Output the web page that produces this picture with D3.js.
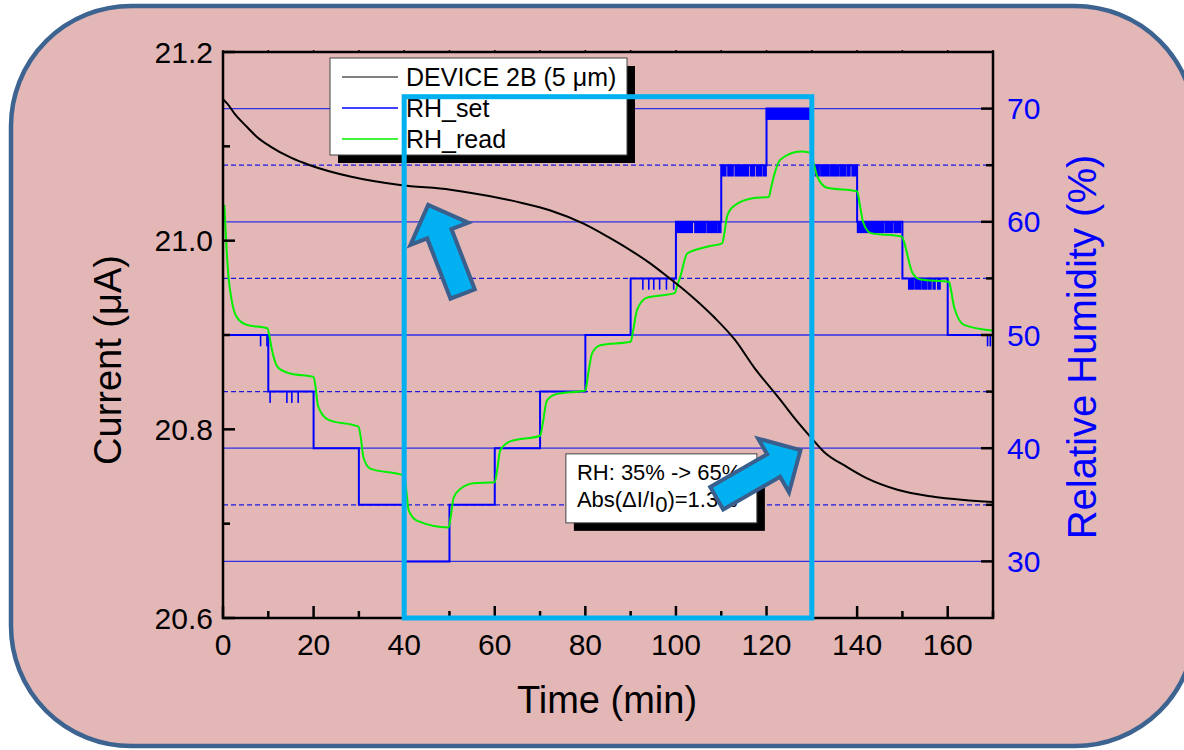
<!DOCTYPE html>
<html>
<head>
<meta charset="utf-8">
<script src="https://cdn.jsdelivr.net/npm/d3@7"></script>
<style>
  body { margin: 0; background: #fff; }
  svg { display: block; font-family: "Liberation Sans", Arial, sans-serif; }
</style>
</head>
<body>
<script>
// device current (uA) against time (min)
const currentTime = [0, 1, 2.5, 5.2, 7.5, 10.4, 15, 19.2, 28.1, 39.1, 50.2, 61.2, 66, 72.3, 79.6, 85, 89.9, 94,
  98.1, 103, 108.4, 113, 117.2, 123.1, 126, 129.7, 132.7, 137.8, 142.2, 148.9, 156.2, 163.6, 170];
const currentValue = [21.150, 21.145, 21.135, 21.121, 21.110, 21.100, 21.088, 21.080, 21.068, 21.059, 21.054,
  21.045, 21.040, 21.032, 21.018, 21.004, 20.990, 20.977, 20.962, 20.943, 20.919, 20.895, 20.866, 20.831,
  20.813, 20.792, 20.776, 20.760, 20.748, 20.736, 20.729, 20.725, 20.723];

// RH set point: step start (min) and level (%)
const setStart = [0, 10, 20, 30, 40, 50, 60, 70, 80, 90, 100, 110, 120, 130, 140, 150, 160, 170];
const setLevel = [50, 45, 40, 35, 30, 35, 40, 45, 50, 55, 60, 65, 70, 65, 60, 55, 50, 50];

// short dropouts of the RH_set signal, [from, to] in min
const dropFrom = [8.3, 9.7, 10.4, 14.1, 15.2, 16.6, 92.7, 94.0, 95.1, 96.4, 97.9, 99.5,
  100.3, 104.2, 106.9, 109.3, 110.2, 111.5, 113.1, 116.5, 117.8, 119.3, 120.0,
  130.8, 132.0, 134.2, 136.4, 137.9, 138.9, 140.1, 146.3, 148.2,
  151.4, 152.8, 154.5, 155.8, 156.8, 157.8, 168.8, 169.4];
const dropTo = [8.3, 9.7, 10.4, 14.1, 15.2, 16.6, 92.7, 94.0, 95.1, 96.4, 97.9, 99.5,
  103.6, 106.5, 109.0, 109.9, 111.0, 112.6, 116.0, 117.3, 118.9, 119.9, 129.8,
  131.6, 133.8, 136.0, 137.5, 138.4, 140.0, 145.9, 147.8, 149.6,
  152.4, 154.1, 155.4, 156.3, 157.2, 158.3, 168.8, 169.4];

// measured RH (%)
const readTime = [0.3, 0.8, 1.2, 1.9, 3.0, 5.2, 9.8, 10.3, 10.8, 12.2, 14.8, 20.0, 20.4, 21.0, 23.3, 29.9,
  30.4, 31.0, 32.5, 39.9, 40.4, 41.0, 42.8, 49.8, 50.3, 50.9, 52.4, 55.3, 60.0, 60.5, 61.2, 63.4, 70.0,
  70.6, 71.5, 73.7, 80.0, 80.6, 81.5, 83.3, 90.0, 90.6, 91.4, 93.6, 99.7, 100.4, 101.0, 102.5, 106.9, 110.2,
  110.7, 111.3, 112.8, 117.2, 120.5, 121.0, 121.6, 123.1, 127.5, 129.7, 130.4, 131.2, 133.4, 140.0,
  140.6, 141.3, 143.0, 149.8, 150.4, 150.9, 152.2, 154.0, 160.3, 160.8, 161.4, 163.6, 169.8];
const readValue = [61.5, 57.5, 55.2, 53.1, 51.6, 50.9, 50.6, 49.8, 48.7, 47.1, 46.6, 46.3, 45.5, 43.7, 42.5, 41.9,
  41.0, 39.2, 38.2, 37.6, 36.5, 34.5, 33.6, 33.0, 34.0, 35.6, 36.4, 36.9, 37.0, 38.0, 39.8, 40.6, 41.1,
  42.2, 44.2, 44.8, 45.1, 46.5, 48.4, 49.1, 49.4, 50.5, 52.2, 53.3, 53.7, 54.5, 55.2, 57.2, 57.8, 58.1,
  59.0, 60.5, 61.4, 62.1, 62.2, 63.0, 64.0, 65.5, 66.2, 66.1, 65.2, 64.0, 63.0, 62.7,
  61.5, 60.0, 59.0, 58.7, 58.2, 57.4, 55.5, 54.9, 54.7, 53.8, 52.5, 50.9, 50.4];

// ticks
const xTicks = [0, 20, 40, 60, 80, 100, 120, 140, 160];
const xMinor = [10, 30, 50, 70, 90, 110, 130, 150, 170];
const leftTicks = [20.6, 20.8, 21.0, 21.2];
const leftMinor = [20.7, 20.9, 21.1];
const rightTicks = [30, 40, 50, 60, 70];
const rightMinor = [35, 45, 55, 65];

// annotation: highlighted window (min), arrows [tipT, tipI, tailT, tailI]
const windowT = [40, 130];
const windowTopRH = 71.05;
const arrowTipT = [45.3, 127.5];
const arrowTipI = [21.038, 20.778];
const arrowTailT = [52.9, 109.0];
const arrowTailI = [20.9435, 20.727];
const noteLines = ["RH: 35% -> 65%", "Abs(\u0394I/I"];
const noteAt = [75.7, 20.774];

const width = 1184, height = 750;
const plot = { left: 223, right: 993, top: 52, bottom: 618 };

const x = d3.scaleLinear().domain([0, 170]).range([plot.left, plot.right]);
const yI = d3.scaleLinear().domain([20.6, 21.2]).range([plot.bottom, plot.top]);
const yRH = d3.scaleLinear().domain([25, 75]).range([plot.bottom, plot.top]);

const svg = d3.select("body").append("svg")
  .attr("width", width)
  .attr("height", height);

// rounded slide panel
svg.append("rect")
  .attr("x", 11).attr("y", 6)
  .attr("width", 1184).attr("height", 740)
  .attr("rx", 120).attr("ry", 120)
  .attr("fill", "#e4b7b7")
  .attr("stroke", "#3d6490")
  .attr("stroke-width", 4.5);

// RH grid
svg.append("g")
  .selectAll("line")
  .data(rightTicks)
  .join("line")
  .attr("x1", plot.left).attr("x2", plot.right)
  .attr("y1", d => yRH(d)).attr("y2", d => yRH(d))
  .attr("stroke", "#2f2fe6")
  .attr("stroke-width", 1.3);

svg.append("g")
  .selectAll("line")
  .data(rightMinor)
  .join("line")
  .attr("x1", plot.left).attr("x2", plot.right)
  .attr("y1", d => yRH(d)).attr("y2", d => yRH(d))
  .attr("stroke", "#1a1ae0")
  .attr("stroke-width", 1.2)
  .attr("stroke-dasharray", "5,3");

// curves
const levelAt = t => {
  let lv = setLevel[0];
  setStart.forEach((s, i) => { if (t >= s) lv = setLevel[i]; });
  return lv;
};

svg.append("path")
  .datum(setStart.map((t, i) => [t, setLevel[i]]))
  .attr("fill", "none")
  .attr("stroke", "#0000ff")
  .attr("stroke-width", 2)
  .attr("d", d3.line().x(d => x(d[0])).y(d => yRH(d[1])).curve(d3.curveStepAfter));

svg.append("g")
  .selectAll("rect")
  .data(dropFrom.map((t, i) => [t, dropTo[i]]))
  .join("rect")
  .attr("x", d => x(d[0]) - 0.8)
  .attr("width", d => Math.max(1.6, x(d[1]) - x(d[0]) + 1.6))
  .attr("y", d => yRH(levelAt(d[0])))
  .attr("height", d => yRH(levelAt(d[0]) - 1) - yRH(levelAt(d[0])))
  .attr("fill", "#0000ff");

svg.append("path")
  .datum(readTime.map((t, i) => [t, readValue[i]]))
  .attr("fill", "none")
  .attr("stroke", "#00f000")
  .attr("stroke-width", 2)
  .attr("d", d3.line().x(d => x(d[0])).y(d => yRH(d[1])).curve(d3.curveMonotoneX));

svg.append("path")
  .datum(currentTime.map((t, i) => [t, currentValue[i]]))
  .attr("fill", "none")
  .attr("stroke", "#000")
  .attr("stroke-width", 2)
  .attr("d", d3.line().x(d => x(d[0])).y(d => yI(d[1])).curve(d3.curveMonotoneX));

// frame and ticks
const frame = svg.append("g").attr("stroke", "#000").attr("fill", "none");
frame.append("rect")
  .attr("x", plot.left).attr("y", plot.top)
  .attr("width", plot.right - plot.left).attr("height", plot.bottom - plot.top)
  .attr("stroke-width", 2.5);

const tick = (data, x1, x2, y1, y2) => frame.append("g")
  .selectAll("line").data(data).join("line")
  .attr("x1", x1).attr("x2", x2).attr("y1", y1).attr("y2", y2)
  .attr("stroke-width", 2.5);

tick(xTicks, d => x(d), d => x(d), plot.bottom, plot.bottom - 12);
tick(xMinor, d => x(d), d => x(d), plot.bottom, plot.bottom - 7);
tick(xTicks.concat(xMinor), d => x(d), d => x(d), plot.top, plot.top - 2).attr("stroke-width", 1.5);
tick(leftTicks, plot.left, plot.left + 12, d => yI(d), d => yI(d));
tick(leftMinor, plot.left, plot.left + 7, d => yI(d), d => yI(d));
tick(rightTicks, plot.right, plot.right - 12, d => yRH(d), d => yRH(d));
tick(rightMinor, plot.right, plot.right - 7, d => yRH(d), d => yRH(d));

// tick labels
svg.append("g")
  .attr("font-size", 30)
  .attr("text-anchor", "middle")
  .selectAll("text").data(xTicks).join("text")
  .attr("x", d => x(d)).attr("y", plot.bottom + 37)
  .text(d => d);

svg.append("g")
  .attr("font-size", 30)
  .attr("text-anchor", "end")
  .selectAll("text").data(leftTicks).join("text")
  .attr("x", plot.left - 10).attr("y", d => yI(d)).attr("dy", "0.35em")
  .text(d => d.toFixed(1));

svg.append("g")
  .attr("font-size", 30)
  .attr("fill", "#0000ff")
  .selectAll("text").data(rightTicks).join("text")
  .attr("x", plot.right + 14).attr("y", d => yRH(d)).attr("dy", "0.35em")
  .text(d => d);

// axis titles
svg.append("text")
  .attr("font-size", 38)
  .attr("text-anchor", "middle")
  .attr("x", (plot.left + plot.right) / 2 - 1).attr("y", 713)
  .text("Time (min)");

svg.append("text")
  .attr("font-size", 38)
  .attr("text-anchor", "middle")
  .attr("transform", `translate(121,${(plot.top + plot.bottom) / 2 + 25}) rotate(-90)`)
  .text("Current (\u03bcA)");

svg.append("text")
  .attr("font-size", 40)
  .attr("fill", "#0000ff")
  .attr("text-anchor", "middle")
  .attr("transform", `translate(1096,${(plot.top + plot.bottom) / 2 + 12}) rotate(-90)`)
  .text("Relative Humidity (%)");

// legend
const legendItems = [["DEVICE 2B (5 \u03bcm)", "#000", 1], ["RH_set", "#0000ff", 1.6], ["RH_read", "#00f000", 1.6]];
const legend = svg.append("g").attr("transform", "translate(330,58)");
legend.append("rect").attr("x", 8).attr("y", 8).attr("width", 297).attr("height", 97).attr("fill", "#000");
legend.append("rect").attr("width", 297).attr("height", 97).attr("fill", "#fff")
  .attr("stroke", "#444").attr("stroke-width", 1);
const rows = legend.selectAll("g.row").data(legendItems).join("g")
  .attr("transform", (d, i) => `translate(0,${19 + i * 31})`);
rows.append("line").attr("x1", 12).attr("x2", 68)
  .attr("stroke", d => d[1]).attr("stroke-width", d => d[2]);
rows.append("text").attr("x", 76).attr("dy", "0.36em").attr("font-size", 25).text(d => d[0]);

// note box
const note = svg.append("g").attr("transform", `translate(${x(noteAt[0])},${yI(noteAt[1])})`);
note.append("rect").attr("x", 8).attr("y", 8).attr("width", 191).attr("height", 69).attr("fill", "#000");
note.append("rect").attr("width", 191).attr("height", 69).attr("fill", "#fff")
  .attr("stroke", "#444").attr("stroke-width", 1);
note.append("text").attr("x", 11).attr("y", 26).attr("font-size", 22).text(noteLines[0]);
const t2 = note.append("text").attr("x", 11).attr("y", 53).attr("font-size", 22).text(noteLines[1]);
t2.append("tspan").attr("dy", 5).text("0");
t2.append("tspan").attr("dy", -5).text(")=1.3%");

// highlighted window
svg.append("rect")
  .attr("x", x(windowT[0])).attr("y", yRH(windowTopRH))
  .attr("width", x(windowT[1]) - x(windowT[0]))
  .attr("height", plot.bottom - yRH(windowTopRH))
  .attr("fill", "none")
  .attr("stroke", "#00b0f0")
  .attr("stroke-width", 5);

// block arrows
const arrowPts = i => {
  const tx = x(arrowTipT[i]), ty = yI(arrowTipI[i]);
  const bx = x(arrowTailT[i]), by = yI(arrowTailI[i]);
  const len = Math.hypot(tx - bx, ty - by);
  const ux = (tx - bx) / len, uy = (ty - by) / len;
  const nx = -uy, ny = ux;
  const sw = 13, hw = 31, hl = 31;
  const hx = tx - ux * hl, hy = ty - uy * hl;
  return [
    [bx + nx * sw, by + ny * sw], [hx + nx * sw, hy + ny * sw], [hx + nx * hw, hy + ny * hw],
    [tx, ty],
    [hx - nx * hw, hy - ny * hw], [hx - nx * sw, hy - ny * sw], [bx - nx * sw, by - ny * sw]
  ];
};

svg.append("g")
  .selectAll("path")
  .data(arrowTipT.map((d, i) => arrowPts(i)))
  .join("path")
  .attr("d", d => d3.line()(d) + "Z")
  .attr("fill", "#00b0f0")
  .attr("stroke", "#3a5f8c")
  .attr("stroke-width", 4)
  .attr("stroke-linejoin", "miter");
</script>
</body>
</html>
